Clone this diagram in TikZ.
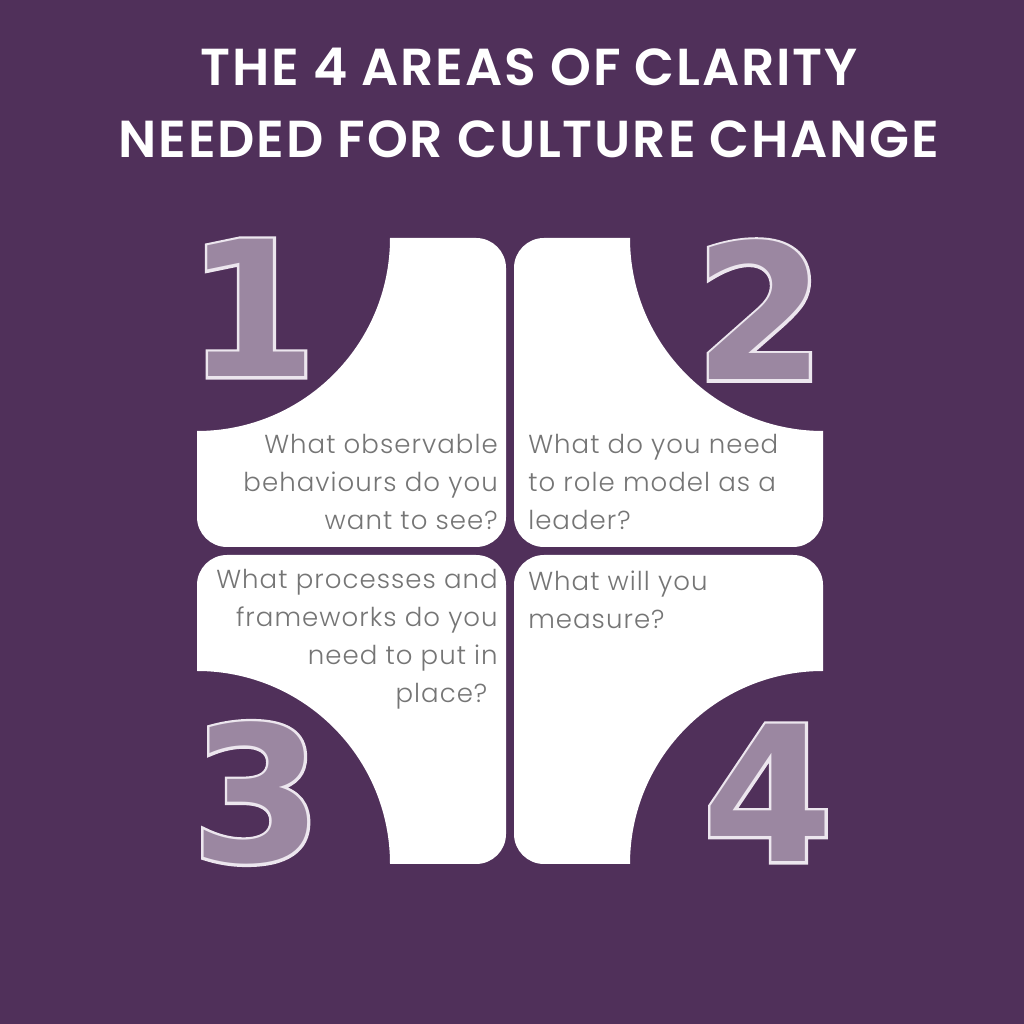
\documentclass[tikz,border=0pt]{standalone}
\usepackage{fontspec}
\setmainfont{Poppins}
\newfontfamily\titlefont{Poppins SemiBold}[LetterSpace=3.5]
\newfontfamily\bodyfont{Poppins Light}[LetterSpace=4]
\newfontfamily\digitfont{DejaVu Sans Bold}
\newfontfamily\digitline{DejaVu Sans Bold}[FakeBold=3]

\definecolor{bgpurple}{RGB}{80,48,90}
\definecolor{textgrey}{RGB}{117,117,117}
\definecolor{chalk}{RGB}{236,230,238}

\begin{document}
\begin{tikzpicture}[
    x=0.025cm, y=0.025cm,
    title/.style={text=white, inner sep=0, anchor=base,
        font=\titlefont\fontsize{37}{37}\selectfont},
    question/.style={text=textgrey, inner sep=0,
        font=\bodyfont\fontsize{18.5}{27}\selectfont},
    tile/.style={fill=white},
    digitedge/.style={inner sep=0, text=chalk,
        font=\digitline\fontsize{134}{134}\selectfont},
    digitbody/.style={inner sep=0, text=chalk!48!bgpurple,
        font=\digitfont\fontsize{134}{134}\selectfont}
]
    \fill[bgpurple] (0,0) rectangle (1024,1024);

    % title
    \node[title] (title1) at (529,938) {THE 4 AREAS OF CLARITY};
    \node[title] (title2) at (529,866) {NEEDED FOR CULTURE CHANGE};

    % the four tiles, each with a cut-out outer corner
    \foreach \sx/\sy in {-1/1, 1/1, -1/-1, 1/-1} {
        \begin{scope}[shift={(510,473)}, xscale=\sx, yscale=\sy]
            \fill[tile] (120,313) -- (34,313)
                arc[start angle=90, end angle=180, radius=30] -- (4,34)
                arc[start angle=180, end angle=270, radius=30] -- (283,4)
                arc[start angle=270, end angle=360, radius=30] -- (313,120)
                arc[start angle=270, end angle=180, radius=193] -- cycle;
        \end{scope}
    }

    % questions
    \node[question, align=right, anchor=north east] (q1) at (498,590)
        {What observable\\behaviours do you\\want to see?};
    \node[question, align=left, anchor=north west] (q2) at (528,590)
        {What do you need\\to role model as a\\leader?};
    \node[question, align=right, anchor=north east] (q3) at (498,455)
        {What processes and\\frameworks do you\\need to put in\\place?\hspace*{0.4em}};
    \node[question, align=left, anchor=north west] (q4) at (528,453)
        {What will you\\measure?};

    % chalk numbers
    \node[digitedge] (n1edge) at (252,716) {1};
    \node[digitbody] (n1) at (252,716) {1};
    \node[digitedge] (n2edge) at (760,714) {2};
    \node[digitbody] (n2) at (760,714) {2};
    \node[digitedge] (n3edge) at (257,231) {3};
    \node[digitbody] (n3) at (257,231) {3};
    \node[digitedge] (n4edge) at (768,231) {4};
    \node[digitbody] (n4) at (768,231) {4};
\end{tikzpicture}
\end{document}
